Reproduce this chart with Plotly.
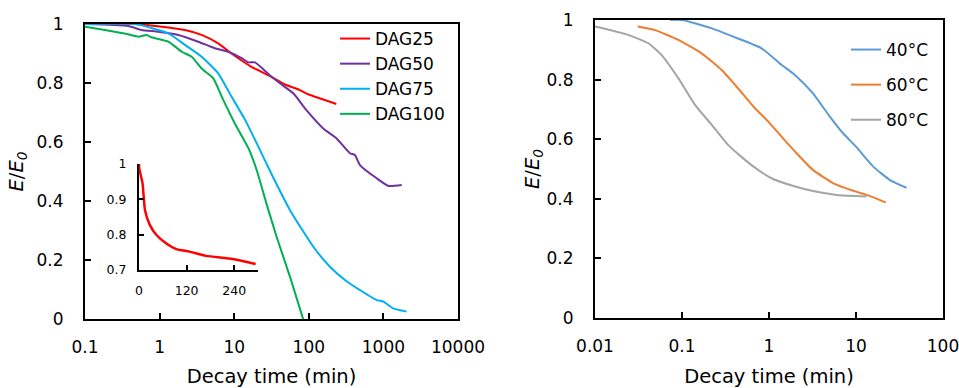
import plotly.graph_objects as go

# ---------------- data ----------------
dag25_t = [0.1, 0.47, 1.07, 2.19, 3.66, 6.1, 9.2, 17, 31.6, 48, 76, 100, 234]
dag25_e = [1.0, 1.0, 0.991, 0.98, 0.963, 0.934, 0.90, 0.855, 0.821, 0.795, 0.776, 0.761, 0.729]

dag50_t = [0.1, 0.38, 0.57, 0.96, 1.78, 3.3, 5.5, 8.3, 12.6, 15.5, 19, 31.6, 41, 62, 93, 156, 234, 355, 415, 485, 813, 1170, 1760]
dag50_e = [1.0, 0.993, 0.98, 0.974, 0.963, 0.94, 0.918, 0.906, 0.884, 0.87, 0.87, 0.821, 0.799, 0.765, 0.708, 0.646, 0.613, 0.562, 0.556, 0.522, 0.477, 0.451, 0.454]

dag75_t = [0.1, 0.47, 1.31, 2.19, 3.66, 6.1, 9.2, 14, 20, 33, 56, 115, 192, 324, 485, 813, 1000, 1350, 2050]
dag75_e = [1.0, 1.0, 0.968, 0.929, 0.889, 0.833, 0.754, 0.675, 0.596, 0.482, 0.369, 0.245, 0.177, 0.127, 0.098, 0.064, 0.059, 0.036, 0.025]

dag100_t = [0.1, 0.185, 0.34, 0.52, 0.67, 0.78, 1.31, 1.98, 2.69, 3.66, 5.25, 6.8, 10.2, 15.5, 20, 27, 37, 56, 84]
dag100_e = [0.991, 0.98, 0.968, 0.957, 0.963, 0.955, 0.94, 0.906, 0.889, 0.849, 0.816, 0.754, 0.663, 0.579, 0.505, 0.392, 0.279, 0.143, 0.0]

inset_t = [0, 1, 9, 15, 27.5, 44, 69, 94, 127, 169, 236, 294]
inset_e = [1.0, 0.985, 0.945, 0.87, 0.827, 0.799, 0.775, 0.759, 0.752, 0.74, 0.731, 0.717]

t40 = [0.073, 0.1, 0.22, 0.44, 0.82, 1.4, 2.0, 3.2, 5.0, 7.1, 10, 15.8, 24.6, 38]
e40 = [1.0, 1.0, 0.972, 0.938, 0.905, 0.849, 0.815, 0.754, 0.676, 0.62, 0.575, 0.508, 0.463, 0.437]

t60 = [0.031, 0.049, 0.091, 0.168, 0.286, 0.44, 0.69, 0.98, 1.4, 2.0, 3.2, 5.5, 10, 13.2, 22]
e60 = [0.978, 0.966, 0.933, 0.888, 0.832, 0.771, 0.704, 0.659, 0.608, 0.558, 0.497, 0.452, 0.424, 0.413, 0.388]

t80 = [0.01, 0.024, 0.041, 0.058, 0.091, 0.141, 0.22, 0.34, 0.63, 1.07, 2.0, 3.2, 6.0, 13.2]
e80 = [0.978, 0.95, 0.922, 0.883, 0.804, 0.715, 0.648, 0.58, 0.513, 0.469, 0.441, 0.426, 0.413, 0.408]

left_xticks = [0.1, 1, 10, 100, 1000, 10000]
left_xtext = ["0.1", "1", "10", "100", "1000", "10000"]
right_xticks = [0.01, 0.1, 1, 10, 100]
right_xtext = ["0.01", "0.1", "1", "10", "100"]
y_ticks = [0, 0.2, 0.4, 0.6, 0.8, 1]
y_text = ["0", "0.2", "0.4", "0.6", "0.8", "1"]
inset_xticks = [0, 120, 240]
inset_yticks = [0.7, 0.8, 0.9, 1.0]
inset_ytext = ["0.7", "0.8", "0.9", "1"]

FONT = "DejaVu Sans"
TICK = 17
TITLE = 19.5
W, H = 959, 388

fig = go.Figure()

def add(t, e, name, color, xa, ya, legend, group, show=True, width=2):
    fig.add_trace(go.Scatter(x=t, y=e, mode="lines", name=name,
                             line=dict(color=color, width=width, shape="spline", smoothing=0.5),
                             xaxis=xa, yaxis=ya, legend=legend, legendgroup=group,
                             showlegend=show))

add(dag25_t, dag25_e, "DAG25", "#FF0000", "x", "y", "legend", "a")
add(dag50_t, dag50_e, "DAG50", "#7030A0", "x", "y", "legend", "b")
add(dag75_t, dag75_e, "DAG75", "#00B0F0", "x", "y", "legend", "c")
add(dag100_t, dag100_e, "DAG100", "#00B050", "x", "y", "legend", "d")
add(inset_t, inset_e, "DAG25 inset", "#FF0000", "x3", "y3", "legend", "e", show=False, width=2.5)
add(t40, e40, "40°C", "#5B9BD5", "x2", "y2", "legend2", "f")
add(t60, e60, "60°C", "#ED7D31", "x2", "y2", "legend2", "g")
add(t80, e80, "80°C", "#A5A5A5", "x2", "y2", "legend2", "h")

def px_x(p):  # page pixel -> paper fraction
    return p / W

def px_y(p):
    return 1 - p / H

axis_common = dict(showline=True, linecolor="black", linewidth=2, mirror=True,
                   ticks="inside", ticklen=6, tickcolor="black", tickwidth=1.5,
                   showgrid=False, zeroline=False, automargin=False,
                   ticklabeloverflow="allow",
                   tickfont=dict(family=FONT, size=TICK, color="black"))
inset_common = dict(showline=True, linecolor="black", linewidth=2, mirror=False,
                    ticks="inside", ticklen=5, tickcolor="black", tickwidth=1.5,
                    showgrid=False, zeroline=False, automargin=False,
                    ticklabelstandoff=8, ticklabeloverflow="allow",
                    tickfont=dict(family=FONT, size=12.5, color="black"))
ytitle = "<i>E</i>/<i>E</i><sub><i>0</i></sub>"

fig.update_layout(
    width=W, height=H,
    margin=dict(l=0, r=0, t=0, b=0),
    paper_bgcolor="white", plot_bgcolor="rgba(0,0,0,0)",
    font=dict(family=FONT, size=TICK, color="black"),
    xaxis=dict(domain=[px_x(85), px_x(458)], type="log", range=[-1, 4],
               tickvals=left_xticks, ticktext=left_xtext, anchor="y",
               ticklabelstandoff=12,
               title=dict(text="Decay time (min)", standoff=14,
                          font=dict(family=FONT, size=TITLE)),
               **axis_common),
    yaxis=dict(domain=[px_y(319), px_y(24)], range=[0, 1],
               tickvals=y_ticks, ticktext=y_text, anchor="x",
               ticklabelstandoff=16,
               title=dict(text=ytitle, standoff=8,
                          font=dict(family=FONT, size=TITLE)),
               **axis_common),
    xaxis2=dict(domain=[px_x(595), px_x(943)], type="log", range=[-2, 2],
                tickvals=right_xticks, ticktext=right_xtext, anchor="y2",
                ticklabelstandoff=12,
                title=dict(text="Decay time (min)", standoff=14,
                           font=dict(family=FONT, size=TITLE)),
                **axis_common),
    yaxis2=dict(domain=[px_y(318), px_y(20)], range=[0, 1],
                tickvals=y_ticks, ticktext=y_text, anchor="x2",
                ticklabelstandoff=16,
                title=dict(text=ytitle, standoff=2,
                           font=dict(family=FONT, size=TITLE)),
                **axis_common),
    xaxis3=dict(domain=[px_x(139), px_x(258)], range=[0, 300],
                tickvals=inset_xticks, anchor="y3", **inset_common),
    yaxis3=dict(domain=[px_y(270), px_y(164)], range=[0.7, 1.0],
                tickvals=inset_yticks, ticktext=inset_ytext, anchor="x3",
                **inset_common),
    legend=dict(x=px_x(335), y=px_y(21), xanchor="left", yanchor="top",
                bgcolor="rgba(0,0,0,0)", font=dict(family=FONT, size=17),
                tracegroupgap=0, traceorder="grouped"),
    legend2=dict(x=px_x(846), y=px_y(32), xanchor="left", yanchor="top",
                 bgcolor="rgba(0,0,0,0)", font=dict(family=FONT, size=17),
                 tracegroupgap=10, traceorder="grouped"),
)

# remove the browser's default 8px body margin so the figure fills the window
fig.write_html("out.html",
               config={"displayModeBar": False},
               post_script="document.body.style.margin='0';document.body.style.overflow='hidden';")
